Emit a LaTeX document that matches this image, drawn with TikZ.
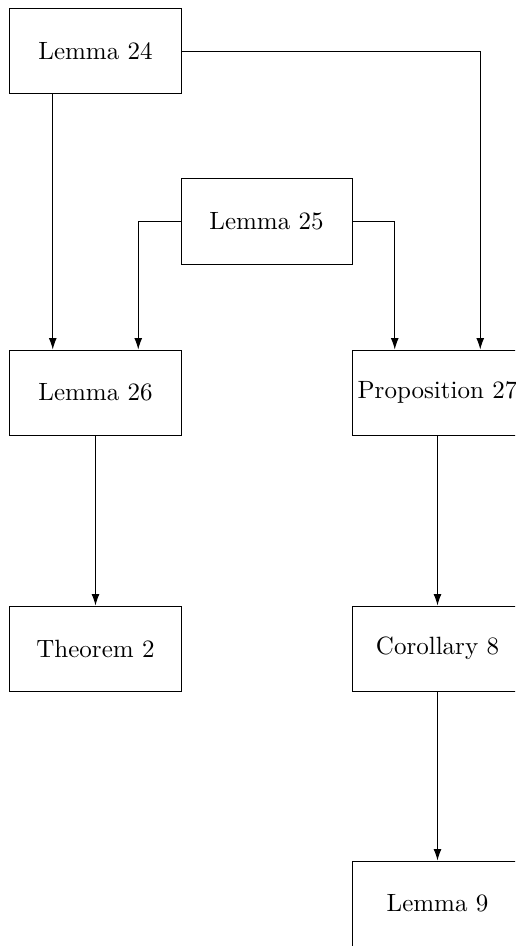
\documentclass[tikz,border=0pt]{standalone}
\usepackage{tikz}
\usetikzlibrary{arrows.meta}
\tikzset{
  resbox/.style = {draw=black, rectangle, align=center, inner sep=0pt,
    minimum width=68.4pt, minimum height=34pt},% boite
  dep/.style = {-{Latex[length=4.6pt,width=3.2pt]}}% dependance
}
\begin{document}
\begin{tikzpicture}[x=0.4pt,y=-0.4pt]
\useasboundingbox (0,0) rectangle (515,946);
\clip (0,0) rectangle (515,946);
\node [resbox] (l24) at (95.5,51.5) {Lemma 24};
\node [resbox] (l25) at (266.5,221.5) {Lemma 25};
\node [resbox] (l26) at (95.5,392.5) {Lemma 26};
\node [resbox] (p27) at (437.5,392.5) {Proposition 27};
\node [resbox] (t2) at (95.5,648.5) {Theorem 2};
\node [resbox] (c8) at (437.5,648.5) {Corollary 8};
\node [resbox] (l9) at (437.5,903.5) {Lemma 9};
% liens
\draw [dep] ([xshift=-17.1pt]l24.south) -- ([xshift=-17.1pt]l26.north);
\draw [dep] (l24.east) -| ([xshift=17.1pt]p27.north);
\draw [dep] (l25.west) -| ([xshift=17.1pt]l26.north);
\draw [dep] (l25.east) -| ([xshift=-17.1pt]p27.north);
\draw [dep] (l26) -- (t2);
\draw [dep] (p27) -- (c8);
\draw [dep] (c8) -- (l9);
\end{tikzpicture}
\end{document}
